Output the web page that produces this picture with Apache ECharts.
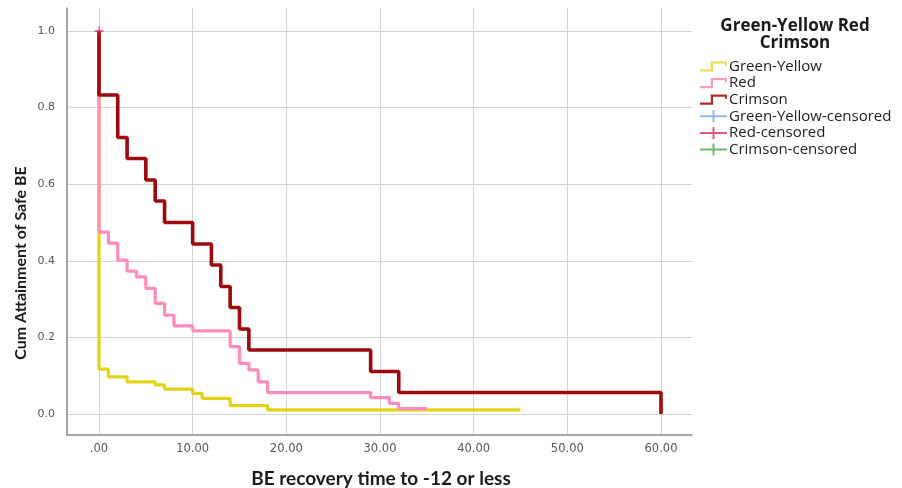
<!DOCTYPE html>
<html>
<head>
<meta charset="utf-8">
<script src="https://cdn.jsdelivr.net/npm/echarts@6/dist/echarts.min.js"></script>
<style>
html,body{margin:0;padding:0;background:#fff;}
#chart{width:902px;height:488px;}
</style>
</head>
<body>
<div id="chart"></div>
<script>
// ---- Data ----
const xTicks = [0, 10, 20, 30, 40, 50, 60];
const yTicks = [0, 0.2, 0.4, 0.6, 0.8, 1.0];

const greenYellowTime = [0, 0, 1, 3, 6, 7, 10, 11, 14, 18, 45];
const greenYellowCum  = [1, 0.117, 0.097, 0.084, 0.076, 0.065, 0.054, 0.041, 0.022, 0.011, 0.011];

const redTime = [0, 0, 1, 2, 3, 4, 5, 6, 7, 8, 10, 14, 15, 16, 17, 18, 29, 31, 32, 35];
const redCum  = [1, 0.475, 0.446, 0.402, 0.373, 0.358, 0.328, 0.289, 0.258, 0.23, 0.217, 0.176, 0.132, 0.115, 0.084, 0.056, 0.043, 0.028, 0.014, 0.014];

const crimsonTime = [0, 0, 2, 3, 5, 6, 7, 10, 12, 13, 14, 15, 16, 29, 32, 60];
const crimsonCum  = [1, 0.833, 0.722, 0.667, 0.611, 0.556, 0.5, 0.444, 0.389, 0.333, 0.278, 0.222, 0.167, 0.111, 0.056, 0];

const redCensoredTime = [0];
const redCensoredCum = [1.0];
const greenYellowCensoredTime = [];
const greenYellowCensoredCum = [];
const crimsonCensoredTime = [];
const crimsonCensoredCum = [];

const seriesNames = ['Green-Yellow', 'Red', 'Crimson', 'Green-Yellow-censored', 'Red-censored', 'Crimson-censored'];
const legendTitle = 'Green-Yellow Red\nCrimson';
const xTitle = 'BE recovery time to -12 or less';
const yTitle = 'Cum Attainment of Safe BE';

// ---- helpers ----
const zip = (a, b) => a.map((v, i) => [v, b[i]]);

const colYellow = '#e2d414';
const colPink = '#ff8cbb';
const colCrimson = '#9c0a0e';

const stepIcon = 'path://M0,8.8 L10.8,8.8 L10.8,0.8 L27,0.8 L27,5 L25,5 L25,3 L13,3 L13,11 L0,11 Z';
const plusIcon = 'path://M0,5 L27,5 L27,7 L0,7 Z M12.5,0 L14.5,0 L14.5,12 L12.5,12 Z';
const plusSym = 'path://M0,4.3 L10,4.3 L10,5.7 L0,5.7 Z M4.3,0 L5.7,0 L5.7,10 L4.3,10 Z';

// layout
const frameL = 67, frameR = 692, frameT = 8, frameB = 435;
const x0px = 99, x60px = 661;
const y0px = 414, y1px = 31;
const pxPerUnit = (x60px - x0px) / 60;
const dataXMin = -(x0px - frameL) / pxPerUnit;
const dataXMax = (frameR - x0px) / pxPerUnit;

const chart = echarts.init(document.getElementById('chart'));
const labelFont = '"DejaVu Sans", sans-serif';
const titleFont = 'Lato, "Open Sans", sans-serif';
const legendFont = '"Open Sans", Lato, sans-serif';

chart.setOption({
  animation: false,
  backgroundColor: '#fff',
  title: {
    text: legendTitle,
    left: 790, top: 13, textAlign: 'center',
    textStyle: {fontFamily: legendFont, fontSize: 17, fontWeight: 'bold', color: '#1a1a1a', lineHeight: 17}
  },
  legend: {
    orient: 'vertical', left: 695, top: 54,
    itemWidth: 27, itemHeight: 12, itemGap: 1.6,
    textStyle: {fontFamily: legendFont, fontSize: 15, color: '#222', padding: [0, 0, 0, -3]},
    data: [
      {name: seriesNames[0], icon: stepIcon, itemStyle: {color: '#e8de4a'}},
      {name: seriesNames[1], icon: stepIcon, itemStyle: {color: '#f79cc2'}},
      {name: seriesNames[2], icon: stepIcon, itemStyle: {color: '#b02a2a'}},
      {name: seriesNames[3], icon: plusIcon, itemStyle: {color: '#78a5e6'}},
      {name: seriesNames[4], icon: plusIcon, itemStyle: {color: '#dc2f58'}},
      {name: seriesNames[5], icon: plusIcon, itemStyle: {color: '#48a84e'}}
    ]
  },
  graphic: [
    {type: 'text', x: 21, y: 263, rotation: Math.PI / 2,
      style: {text: yTitle, fontFamily: titleFont, fontSize: 16, fontWeight: 'bold', fill: '#1a1a1a', align: 'center', verticalAlign: 'middle'}},
    {type: 'text', x: 381, y: 479,
      style: {text: xTitle, fontFamily: titleFont, fontSize: 19, fontWeight: 'bold', fill: '#1a1a1a', align: 'center', verticalAlign: 'middle'}}
  ],
  grid: [
    {left: frameL, top: frameT, width: frameR - frameL, height: frameB - frameT},
    {left: x0px, top: frameT, width: x60px - x0px, height: frameB - frameT},
    {left: frameL, top: y1px, width: frameR - frameL, height: y0px - y1px}
  ],
  xAxis: [
    {gridIndex: 0, type: 'value', min: 0, max: 1, axisLine: {show: true, onZero: false, lineStyle: {color: '#8a8a8a', width: 1.5}},
      axisTick: {show: false}, axisLabel: {show: false}, splitLine: {show: false}},
    {gridIndex: 1, type: 'value', min: 0, max: 60, interval: 10,
      axisLine: {show: false}, axisTick: {show: false},
      splitLine: {show: true, lineStyle: {color: '#d3d3d3', width: 1}},
      axisLabel: {margin: 8, fontFamily: labelFont, fontSize: 11.5, color: '#555',
        formatter: v => (v === 0 ? '.00' : v.toFixed(2))}},
    {gridIndex: 2, type: 'value', min: dataXMin, max: dataXMax, show: false, splitLine: {show: false}}
  ],
  yAxis: [
    {gridIndex: 0, type: 'value', min: 0, max: 1, axisLine: {show: true, onZero: false, lineStyle: {color: '#8a8a8a', width: 1.5}},
      axisTick: {show: false}, axisLabel: {show: false}, splitLine: {show: false}},
    {gridIndex: 1, type: 'value', min: 0, max: 1, show: false, splitLine: {show: false}},
    {gridIndex: 2, type: 'value', min: 0, max: 1, interval: 0.2,
      axisLine: {show: false}, axisTick: {show: false},
      splitLine: {show: true, lineStyle: {color: '#d3d3d3', width: 1}},
      axisLabel: {margin: 12, fontFamily: labelFont, fontSize: 11, color: '#555', formatter: v => v.toFixed(1)}}
  ],
  series: [
    {name: seriesNames[0], type: 'line', step: 'end', xAxisIndex: 2, yAxisIndex: 2, clip: false,
      data: zip(greenYellowTime, greenYellowCum), showSymbol: false, symbol: 'none',
      lineStyle: {color: colYellow, width: 3.2}, itemStyle: {color: colYellow}, z: 2},
    {name: seriesNames[1], type: 'line', step: 'end', xAxisIndex: 2, yAxisIndex: 2, clip: false,
      data: zip(redTime, redCum), showSymbol: false, symbol: 'none',
      lineStyle: {color: colPink, width: 3.2}, itemStyle: {color: colPink}, z: 3},
    {name: seriesNames[2], type: 'line', step: 'end', xAxisIndex: 2, yAxisIndex: 2, clip: false,
      data: zip(crimsonTime, crimsonCum), showSymbol: false, symbol: 'none',
      lineStyle: {color: colCrimson, width: 3.6}, itemStyle: {color: colCrimson}, z: 4},
    {name: seriesNames[3], type: 'scatter', xAxisIndex: 2, yAxisIndex: 2, clip: false,
      data: zip(greenYellowCensoredTime, greenYellowCensoredCum), symbol: plusSym, symbolSize: 9,
      itemStyle: {color: '#78a5e6'}, z: 5},
    {name: seriesNames[4], type: 'scatter', xAxisIndex: 2, yAxisIndex: 2, clip: false,
      data: zip(redCensoredTime, redCensoredCum), symbol: plusSym, symbolSize: 9,
      itemStyle: {color: '#d8204e'}, z: 5},
    {name: seriesNames[5], type: 'scatter', xAxisIndex: 2, yAxisIndex: 2, clip: false,
      data: zip(crimsonCensoredTime, crimsonCensoredCum), symbol: plusSym, symbolSize: 9,
      itemStyle: {color: '#48a84e'}, z: 5}
  ]
});
</script>
</body>
</html>
